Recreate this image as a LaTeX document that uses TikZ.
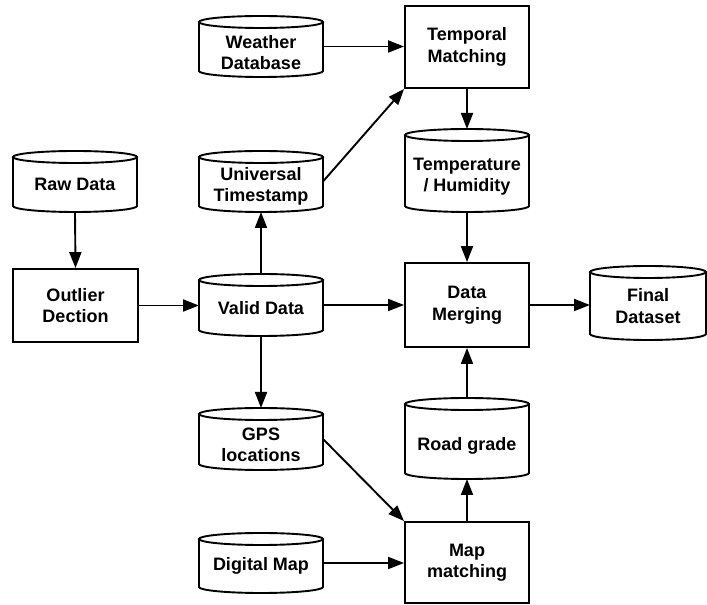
\documentclass[tikz,border=0pt]{standalone}
\usepackage{fontspec}
\setmainfont{Liberation Sans}
\usetikzlibrary{arrows.meta}
\tikzset{
  ln/.style={line width=1.9pt},
  base/.style={font=\bfseries\fontsize{18}{21.5}\selectfont, align=center, inner sep=0pt},
  proc/.style={base, draw, ln, minimum width=124pt},
  db/.style={inner sep=0pt, outer sep=0pt, minimum width=124pt},
  arr/.style={ln, -{Triangle[length=16pt,width=12pt]}},
}
\newcommand{\cylshape}[2]{%
  \draw[ln] ([yshift=-6pt]#1.north west) -- ([yshift=6pt]#1.south west)
     arc[start angle=180,end angle=360,x radius=#2,y radius=6pt]
     -- ([yshift=-6pt]#1.north east);
  \draw[ln] ([yshift=-6pt]#1.north) ellipse[x radius=#2, y radius=6pt];
}
\begin{document}
\begin{tikzpicture}[x=1pt,y=1pt]
\useasboundingbox (0,0) rectangle (707,605);
% cylinders
\node[db, minimum height=61pt, label={[base,yshift=-6pt]center:Weather\\Database}] (weather) at (261,558.5) {};
\node[db, minimum height=61pt, label={[base,yshift=-3pt]center:Raw Data}] (raw) at (75,423.5) {};
\node[db, minimum height=61pt, label={[base,yshift=-5pt]center:Universal\\Timestamp}] (univ) at (261,423.5) {};
\node[db, minimum height=83pt, label={[base,yshift=-6pt]center:Temperature\\/ Humidity}] (temp) at (467,434.5) {};
\node[db, minimum height=62pt, label={[base,yshift=-3pt]center:Valid Data}] (valid) at (261,300) {};
\node[db, minimum width=116pt, minimum height=74pt, label={[base,yshift=-3pt]center:Final\\Dataset}] (final) at (648,302) {};
\node[db, minimum height=62pt, label={[base,yshift=-6pt]center:GPS\\locations}] (gps) at (261,166) {};
\node[db, minimum height=81pt, label={[base,yshift=-7pt]center:Road grade}] (road) at (467,166.5) {};
\node[db, minimum height=60pt, label={[base,yshift=-3pt]center:Digital Map}] (dmap) at (261,42) {};
\cylshape{weather}{62pt}
\cylshape{raw}{62pt}
\cylshape{univ}{62pt}
\cylshape{temp}{62pt}
\cylshape{valid}{62pt}
\cylshape{final}{58pt}
\cylshape{gps}{62pt}
\cylshape{road}{62pt}
\cylshape{dmap}{62pt}
% process boxes
\node[proc, minimum height=82pt] (tm) at (467,558) {Temporal\\Matching};
\node[proc, minimum width=125pt, minimum height=73pt] (outlier) at (75.5,299.5) {Outlier\\Dection};
\node[proc, minimum height=84pt] (merge) at (467,300) {Data\\Merging};
\node[proc, minimum height=81pt] (mm) at (467,42.5) {Map\\matching};
% connectors
\draw[arr] (weather.east) -- (weather.east -| tm.west);
\draw[arr] (univ.east) -- (tm.south west);
\draw[arr] (tm.south) -- (temp.north);
\draw[arr] (temp.south) -- (merge.north);
\draw[arr] (raw.south) -- (outlier.north);
\draw[arr] (outlier.east) -- (outlier.east -| valid.west);
\draw[arr] (valid.north) -- (univ.south);
\draw[arr] (valid.east) -- (valid.east -| merge.west);
\draw[arr] (merge.east) -- (merge.east -| final.west);
\draw[arr] (valid.south) -- (gps.north);
\draw[arr] (gps.east) -- (mm.north west);
\draw[arr] (dmap.east) -- (dmap.east -| mm.west);
\draw[arr] (mm.north) -- (road.south);
\draw[arr] (road.north) -- (merge.south);
\end{tikzpicture}
\end{document}
